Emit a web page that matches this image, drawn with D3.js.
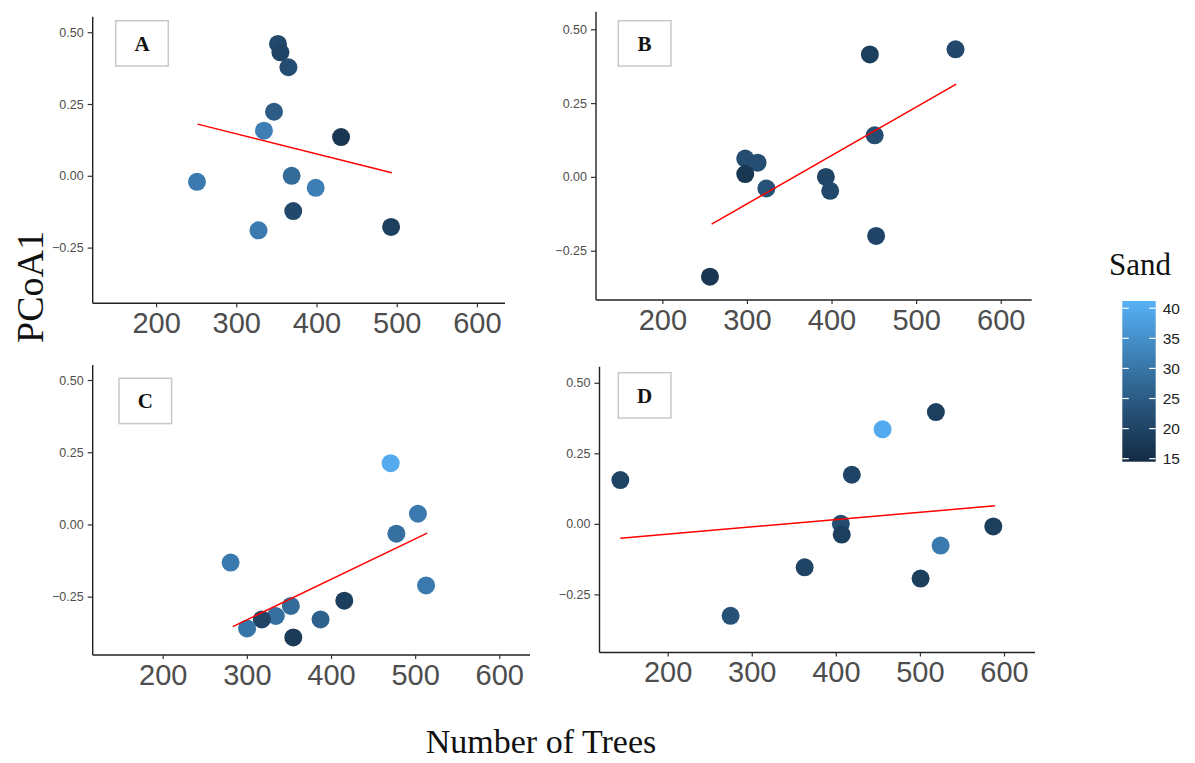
<!DOCTYPE html>
<html>
<head>
<meta charset="utf-8">
<script src="https://cdn.jsdelivr.net/npm/d3@7"></script>
<style>
  html, body { margin: 0; padding: 0; background: #fff; }
  svg { display: block; }
</style>
</head>
<body>
<script>
// ---- data: number of trees, PCoA1 score and sand content per site ----
const panelNames = ["A", "B", "C", "D"];

const treesA = [352, 355, 365, 347, 334.5, 430.6, 251, 369, 399, 371, 327.7, 493];
const pcoaA  = [0.459, 0.43, 0.378, 0.223, 0.157, 0.135, -0.021, 0.0, -0.042, -0.123, -0.19, -0.178];
const sandA  = [21, 20, 22, 25, 32, 17, 31, 28, 32, 21, 31, 19];
const fitA   = { trees: [251.7, 493.9], pcoa: [0.180, 0.0105] };

const treesB = [445.3, 546.6, 451, 298, 312.6, 298, 323, 393.3, 398.4, 452.7, 256.3];
const pcoaB  = [0.415, 0.432, 0.141, 0.062, 0.048, 0.0096, -0.039, 0.0, -0.047, -0.2, -0.338];
const sandB  = [19, 21, 22, 22, 22, 17, 23, 20, 21, 20, 17];
const fitB   = { trees: [258.3, 547.4], pcoa: [-0.16, 0.314] };

const treesC = [470.9, 503.3, 477.7, 280.7, 513, 415.8, 352.3, 387.6, 334.4, 317.8, 300.3, 355.2];
const pcoaC  = [0.212, 0.037, -0.032, -0.132, -0.211, -0.264, -0.282, -0.329, -0.317, -0.329, -0.36, -0.391];
const sandC  = [40, 31, 29, 31, 31, 19, 28, 26, 29, 20, 30, 18];
const fitC   = { trees: [283.2, 514.3], pcoa: [-0.354, -0.030] };

const treesD = [143.7, 519, 455.6, 419, 406, 407, 587.3, 524.6, 362.9, 500.8, 274.8];
const pcoaD  = [0.155, 0.396, 0.335, 0.174, 0.0, -0.038, -0.009, -0.077, -0.154, -0.194, -0.326];
const sandD  = [20, 19, 40, 20, 22, 19, 19, 31, 20, 19, 23];
const fitD   = { trees: [143.7, 589.3], pcoa: [-0.051, 0.064] };

const xTicks = [200, 300, 400, 500, 600];
const yTicks = [0.5, 0.25, 0, -0.25];
const sandTicks = [15, 20, 25, 30, 35, 40];
const sandRange = [14.5, 41.2];

// ---- layout of the four panels ----
const layout = [
  { frame: { l: 92.7, r: 505,    t: 16.7,  b: 303.3 }, xDom: [121, 635],   yDom: [-0.444, 0.554], tag: { l: 115.7, t: 20.7 } },
  { frame: { l: 596,  r: 1031.7, t: 11.7,  b: 300 },   xDom: [121.6, 636.6], yDom: [-0.417, 0.5596], tag: { l: 618.3, t: 20.7 } },
  { frame: { l: 92.7, r: 530,    t: 365,   b: 655 },   xDom: [116.8, 636.5], yDom: [-0.452, 0.552], tag: { l: 119,   t: 378.3 } },
  { frame: { l: 599.5,r: 1035,   t: 366.7, b: 652.5 }, xDom: [118.9, 636.9], yDom: [-0.456, 0.557], tag: { l: 618.3, t: 372.7 } }
];

const series = [
  { trees: treesA, pcoa: pcoaA, sand: sandA, fit: fitA },
  { trees: treesB, pcoa: pcoaB, sand: sandB, fit: fitB },
  { trees: treesC, pcoa: pcoaC, sand: sandC, fit: fitC },
  { trees: treesD, pcoa: pcoaD, sand: sandD, fit: fitD }
];

const W = 1195, H = 763;
const sansFont = "'Liberation Sans', Arial, sans-serif";
const serifFont = "'Liberation Serif', 'Times New Roman', serif";

const color = d3.scaleLinear()
  .domain(sandRange)
  .range(["#132B43", "#56B1F7"])
  .interpolate(d3.interpolateLab);

const svg = d3.select("body").append("svg")
  .attr("width", W).attr("height", H);

panelNames.forEach((name, i) => {
  const L = layout[i], S = series[i], f = L.frame;
  const x = d3.scaleLinear().domain(L.xDom).range([f.l, f.r]);
  const y = d3.scaleLinear().domain(L.yDom).range([f.b, f.t]);
  const g = svg.append("g");

  // y axis
  const yAxis = g.append("g")
    .attr("transform", `translate(${f.l},0)`)
    .call(d3.axisLeft(y).tickValues(yTicks).tickFormat(d3.format(".2f"))
      .tickSize(5).tickPadding(4));
  yAxis.select(".domain").attr("stroke", "#222").attr("stroke-width", 1.4)
    .attr("d", `M0,${f.t}V${f.b}`);
  yAxis.selectAll(".tick line").attr("stroke", "#333").attr("stroke-width", 1.2);
  yAxis.selectAll(".tick text").attr("fill", "#4d4d4d")
    .style("font-family", sansFont).style("font-size", "12.5px");

  // x axis
  const xAxis = g.append("g")
    .attr("transform", `translate(0,${f.b})`)
    .call(d3.axisBottom(x).tickValues(xTicks).tickFormat(d3.format("d"))
      .tickSize(4).tickPadding(5));
  xAxis.select(".domain").attr("stroke", "#222").attr("stroke-width", 1.4)
    .attr("d", `M${f.l},0H${f.r}`);
  xAxis.selectAll(".tick line").attr("stroke", "#333").attr("stroke-width", 1.2);
  xAxis.selectAll(".tick text").attr("fill", "#4d4d4d")
    .style("font-family", sansFont).style("font-size", "29px");

  // points coloured by sand
  const pts = S.trees.map((t, k) => ({ t, p: S.pcoa[k], s: S.sand[k] }));
  g.append("g").selectAll("circle").data(pts).join("circle")
    .attr("cx", d => x(d.t))
    .attr("cy", d => y(d.p))
    .attr("r", 9)
    .attr("fill", d => color(d.s));

  // linear fit
  g.append("line")
    .attr("x1", x(S.fit.trees[0])).attr("y1", y(S.fit.pcoa[0]))
    .attr("x2", x(S.fit.trees[1])).attr("y2", y(S.fit.pcoa[1]))
    .attr("stroke", "#ff0000").attr("stroke-width", 1.5);

  // panel tag
  const tg = g.append("g").attr("transform", `translate(${L.tag.l},${L.tag.t})`);
  tg.append("rect").attr("width", 52.6).attr("height", 45.3)
    .attr("fill", "#fff").attr("stroke", "#c8c8c8").attr("stroke-width", 1.5);
  tg.append("text").attr("x", 26.3).attr("y", 30)
    .attr("text-anchor", "middle")
    .style("font-family", serifFont).style("font-weight", "bold").style("font-size", "21px")
    .attr("fill", "#111").text(name);
});

// axis titles
svg.append("text")
  .attr("transform", "translate(43,287) rotate(-90)")
  .attr("text-anchor", "middle")
  .style("font-family", serifFont).style("font-size", "38px")
  .attr("fill", "#111").text("PCoA1");

svg.append("text")
  .attr("x", 541).attr("y", 753)
  .attr("text-anchor", "middle")
  .style("font-family", serifFont).style("font-size", "34px")
  .attr("fill", "#111").text("Number of Trees");

// colour bar legend
const bar = { l: 1122.3, r: 1155.7, t: 301, b: 461.7 };
const ls = d3.scaleLinear().domain(sandRange).range([bar.b, bar.t]);
const grad = svg.append("defs").append("linearGradient")
  .attr("id", "sandGrad").attr("x1", 0).attr("y1", 1).attr("x2", 0).attr("y2", 0);
d3.range(0, 1.0001, 0.05).forEach(o => {
  grad.append("stop").attr("offset", o)
    .attr("stop-color", color(sandRange[0] + o * (sandRange[1] - sandRange[0])));
});
svg.append("rect")
  .attr("x", bar.l).attr("y", bar.t)
  .attr("width", bar.r - bar.l).attr("height", bar.b - bar.t)
  .attr("fill", "url(#sandGrad)");
const lt = svg.append("g");
sandTicks.forEach(v => {
  const yy = ls(v);
  lt.append("line").attr("x1", bar.l).attr("x2", bar.l + 6.5).attr("y1", yy).attr("y2", yy)
    .attr("stroke", "#fff").attr("stroke-width", 1.2);
  lt.append("line").attr("x1", bar.r - 6.5).attr("x2", bar.r).attr("y1", yy).attr("y2", yy)
    .attr("stroke", "#fff").attr("stroke-width", 1.2);
  lt.append("text").attr("x", bar.r + 7).attr("y", yy).attr("dy", "0.36em")
    .style("font-family", sansFont).style("font-size", "15.5px")
    .attr("fill", "#222").text(v);
});
svg.append("text")
  .attr("x", 1140).attr("y", 275)
  .attr("text-anchor", "middle")
  .style("font-family", serifFont).style("font-size", "31px")
  .attr("fill", "#111").text("Sand");
</script>
</body>
</html>
